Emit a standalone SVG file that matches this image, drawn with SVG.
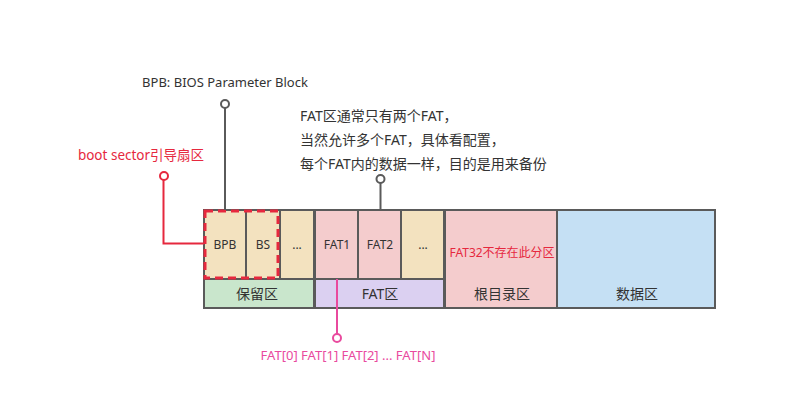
<svg xmlns="http://www.w3.org/2000/svg" width="807" height="412" viewBox="0 0 807 412">
<defs>
<style>
text{font-family:"Noto Sans","Noto Sans CJK SC",sans-serif;font-size:13px;fill:#333;dominant-baseline:central}
.c{text-anchor:middle;font-size:12px}
.r{text-anchor:middle;font-size:14px}
.note{font-size:14px}
.cell{stroke:#5a5a5a;stroke-width:2}
.beige{fill:#f3e2bf}.pink{fill:#f4cccd}.green{fill:#c9e6cc}.purple{fill:#dbd0f1}.blue{fill:#c5e0f4}
.red{fill:#e6283e}.mag{fill:#e94a9e}
.pin{fill:#fff;stroke-width:2}
</style>
</defs>
<g id="cells">
<g id="bpb"><rect class="cell beige" x="204" y="210" width="42" height="69"/><text class="c" x="225" y="244">BPB</text></g>
<g id="bs"><rect class="cell beige" x="246" y="210" width="34" height="69"/><text class="c" x="263" y="244">BS</text></g>
<g id="res-more"><rect class="cell beige" x="280" y="210" width="34" height="69"/><text class="c" x="297" y="244">...</text></g>
<g id="fat1"><rect class="cell pink" x="315" y="210" width="43" height="69"/><text class="c" x="337" y="244">FAT1</text></g>
<g id="fat2"><rect class="cell pink" x="358" y="210" width="43" height="69"/><text class="c" x="380" y="244">FAT2</text></g>
<g id="fat-more"><rect class="cell beige" x="401" y="210" width="43" height="69"/><text class="c" x="423" y="244">...</text></g>
<g id="reserved"><rect class="cell green" x="204" y="279" width="110" height="29"/><text class="r" x="257" y="293">保留区</text></g>
<g id="fatarea"><rect class="cell purple" x="315" y="279" width="129" height="29"/><text class="r" x="380" y="293">FAT区</text></g>
<g id="root"><rect class="cell pink" x="445" y="210" width="112" height="98"/><text class="c red" x="502" y="252">FAT32不存在此分区</text><text class="r" x="502" y="293">根目录区</text></g>
<g id="data"><rect class="cell blue" x="557" y="210" width="158" height="98"/><text class="r" x="637" y="293">数据区</text></g>
<g id="bootsector"><rect x="205" y="211" width="73" height="67" fill="none" stroke="#e6283e" stroke-width="3" stroke-dasharray="8,5"/></g>
</g>
<g id="connectors" fill="none">
<path d="M225 108V210" stroke="#5a5a5a" stroke-width="2"/>
<circle class="pin" cx="225" cy="104" r="4" stroke="#5a5a5a"/>
<path d="M163.5 180V243.5H204" stroke="#e6283e" stroke-width="2"/>
<circle class="pin" cx="164" cy="176" r="4" stroke="#e6283e"/>
<path d="M380.5 183V210" stroke="#5a5a5a" stroke-width="2"/>
<circle class="pin" cx="380.5" cy="179" r="4" stroke="#5a5a5a"/>
<path d="M337 279V334" stroke="#e94a9e" stroke-width="2"/>
<circle class="pin" cx="337" cy="338" r="4" stroke="#e94a9e"/>
</g>
<g id="labels">
<text x="225" y="82" text-anchor="middle">BPB: BIOS Parameter Block</text>
<text x="141" y="155" text-anchor="middle" class="red" style="font-size:13.5px">boot sector引导扇区</text>
<text class="note" x="300" y="115">FAT区通常只有两个FAT，</text>
<text class="note" x="300" y="139">当然允许多个FAT，具体看配置，</text>
<text class="note" x="300" y="163">每个FAT内的数据一样，目的是用来备份</text>
<text x="348" y="355" text-anchor="middle" class="mag">FAT[0] FAT[1] FAT[2] ... FAT[N]</text>
</g>
</svg>
